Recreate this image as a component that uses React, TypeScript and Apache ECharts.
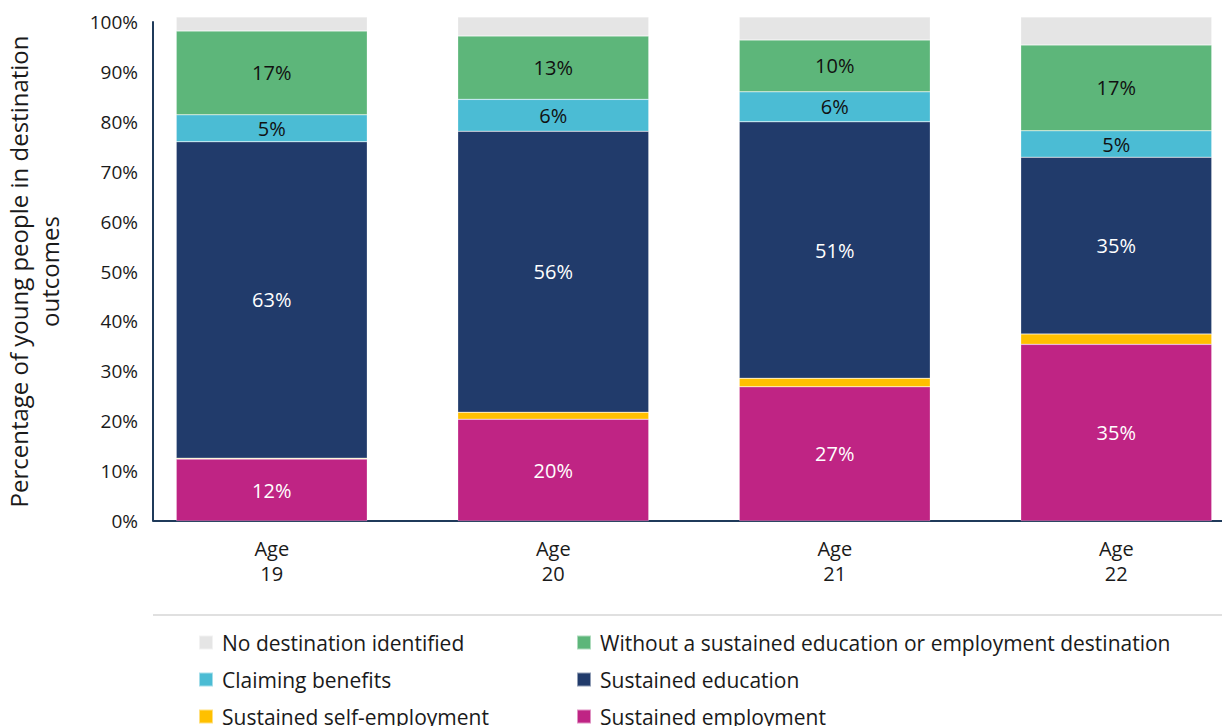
import React, { useEffect, useRef } from "react";
import * as echarts from "echarts";

const categories = ["Age\n19", "Age\n20", "Age\n21", "Age\n22"];
const sustainedEmployment = [12.4, 20.4, 26.9, 35.4];
const sustainedSelfEmployment = [0.2, 1.4, 1.7, 2.1];
const sustainedEducation = [63.4, 56.3, 51.4, 35.4];
const claimingBenefits = [5.4, 6.4, 6.0, 5.3];
const withoutDestination = [16.8, 12.7, 10.4, 17.2];
const noDestination = [2.8, 3.8, 4.6, 5.6];
const yTicks = [0, 10, 20, 30, 40, 50, 60, 70, 80, 90, 100];

const FONT = "Open Sans";

export default function App() {
  const ref = useRef<HTMLDivElement>(null);
  useEffect(() => {
    const chart = echarts.init(ref.current!, undefined, { renderer: "svg" });
    const lbl = (color: string) => ({
      show: true,
      position: "inside",
      color,
      fontFamily: FONT,
      fontSize: 20,
      formatter: (p: any) => Math.round(p.value) + "%",
    });
    const mk = (name: string, data: number[], color: string, label: any) => ({
      name,
      type: "bar",
      stack: "total",
      data,
      barWidth: 191,
      clip: false,
      itemStyle: { color, borderColor: "rgba(255,255,255,0.5)", borderWidth: 0.5 },
      label,
      emphasis: { disabled: true },
    });
    const legendText = { fontFamily: FONT, fontSize: 21, color: "#1a1a1a", lineHeight: 23, padding: [0, 0, 0, 4] };
    const legendBase = {
      orient: "vertical",
      top: 631,
      height: 140,
      padding: 0,
      itemWidth: 14,
      itemHeight: 14,
      itemGap: 14,
      icon: "rect",
      textStyle: legendText,
      selectedMode: false,
    };
    chart.setOption({
      animation: false,
      textStyle: { fontFamily: FONT },
      grid: { left: 131, top: 22, right: -35, height: 499, outerBoundsMode: "none", containLabel: false },
      xAxis: {
        type: "category",
        data: categories,
        axisLine: { show: false },
        axisTick: { show: false },
        axisLabel: { fontFamily: FONT, fontSize: 20, color: "#1a1a1a", lineHeight: 25, margin: 15 },
      },
      yAxis: {
        type: "value",
        min: 0,
        max: 100,
        interval: 10,
        offset: -22,
        axisLine: { show: true, lineStyle: { color: "#1f3a5a", width: 2 } },
        axisTick: { show: false },
        splitLine: { show: false },
        axisLabel: {
          fontFamily: FONT,
          fontSize: 19,
          color: "#1a1a1a",
          margin: 15,
          formatter: (v: number) => (yTicks.includes(v) ? v + "%" : ""),
        },
        name: "Percentage of young people in destination\noutcomes",
        nameLocation: "middle",
        nameRotate: 90,
        nameGap: 88,
        nameTextStyle: { fontFamily: FONT, fontSize: 24, color: "#1a1a1a", lineHeight: 31 },
      },
      legend: [
        {
          ...legendBase,
          left: 198,
          data: ["No destination identified", "Claiming benefits", "Sustained self-employment"],
        },
        {
          ...legendBase,
          left: 576,
          data: ["Without a sustained education or employment destination", "Sustained education", "Sustained employment"],
        },
      ],
      graphic: [
        { type: "line", shape: { x1: 153, y1: 521, x2: 1222, y2: 521 }, style: { stroke: "#1f3a5a", lineWidth: 2 } },
        { type: "line", shape: { x1: 153, y1: 615, x2: 1222, y2: 615 }, style: { stroke: "#e0e0e0", lineWidth: 2 } },
      ],
      series: [
        mk("Sustained employment", sustainedEmployment, "#bf2484", lbl("#ffffff")),
        mk("Sustained self-employment", sustainedSelfEmployment, "#ffc000", { show: false }),
        mk("Sustained education", sustainedEducation, "#213b6b", lbl("#ffffff")),
        mk("Claiming benefits", claimingBenefits, "#4bbcd4", lbl("#111111")),
        mk("Without a sustained education or employment destination", withoutDestination, "#5db67a", lbl("#111111")),
        mk("No destination identified", noDestination, "#e5e5e5", { show: false }),
      ],
    });
    return () => chart.dispose();
  }, []);
  return (
    <div
      ref={ref}
      style={{ position: "fixed", left: 0, top: 0, width: 1222, height: 726, background: "#fff" }}
    />
  );
}
